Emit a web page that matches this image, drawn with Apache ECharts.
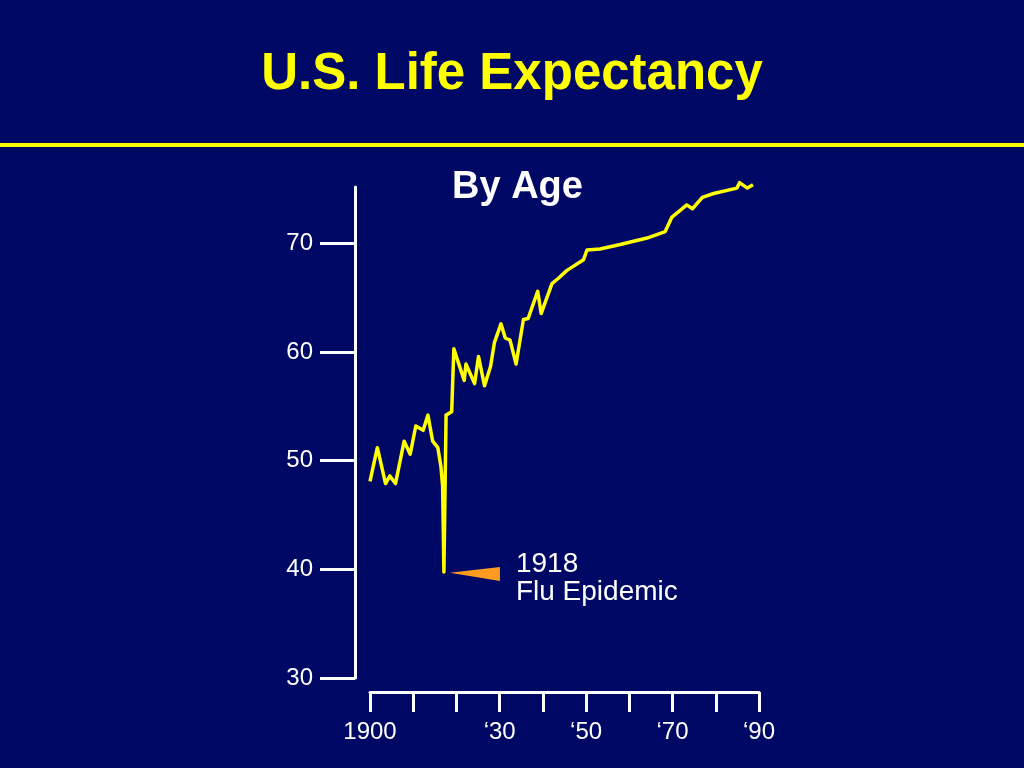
<!DOCTYPE html>
<html lang="en">
<head>
    <meta charset="UTF-8">
    <title>U.S. Life Expectancy</title>
    <style>
        html, body {
            margin: 0;
            padding: 0;
            background: #000866;
        }
        #main {
            width: 1024px;
            height: 768px;
        }
    </style>
</head>
<body>
<div id="main"></div>
<script src="https://cdn.jsdelivr.net/npm/echarts@6/dist/echarts.min.js"></script>
<script>
    // values (year, life expectancy at birth)
    var years = [1900, 1901.7, 1903.6, 1904.6, 1905.9, 1907.9, 1909.3, 1910.6, 1912.3, 1913.4,
        1914.5, 1915.7, 1916.4, 1916.8, 1917.1, 1917.6, 1918.9, 1919.4, 1921.8, 1922.2,
        1924.2, 1925.1, 1926.5, 1927.9, 1928.8, 1930.3, 1931.3, 1932.4, 1933.8, 1935.5,
        1936.6, 1938.8, 1939.6, 1942.1, 1943.6, 1945.5, 1949.4, 1950.2, 1953.2, 1957.9,
        1964.1, 1968.3, 1969.8, 1973.3, 1974.6, 1976.9, 1979.5, 1984.9, 1985.5, 1987.3, 1988.6];
    var lifeExp = [48.1, 51.2, 47.9, 48.6, 47.9, 51.8, 50.6, 53.2, 52.8, 54.2,
        51.8, 51.2, 49.5, 47.7, 39.75, 54.2, 54.5, 60.3, 57.4, 58.9,
        57.1, 59.6, 56.9, 58.7, 60.9, 62.6, 61.3, 61.1, 58.9, 63.0,
        63.1, 65.6, 63.55, 66.3, 66.8, 67.5, 68.5, 69.4, 69.5, 69.9,
        70.5, 71.1, 72.4, 73.55, 73.2, 74.25, 74.6, 75.1, 75.6, 75.1, 75.4];
    var yTicks = [30, 40, 50, 60, 70];
    var xLabels = [1900, 1930, 1950, 1970, 1990];
    var flu = {year: 1917.1, value: 39.75, text: '1918\nFlu Epidemic'};

    var data = years.map(function (y, i) {
        return [y, lifeExp[i]];
    });

    var font = 'Liberation Sans, Arial, sans-serif';
    var chart = echarts.init(document.getElementById('main'));

    chart.setOption({
        backgroundColor: '#000866',
        animation: false,
        title: [
            {
                text: 'U.S. Life Expectancy',
                left: 'center',
                top: 44,
                textStyle: {color: '#ffff00', fontSize: 51, fontWeight: 'bold', fontFamily: font}
            },
            {
                text: 'By Age',
                left: 447,
                top: 164,
                textStyle: {color: '#ffffff', fontSize: 38, fontWeight: 'bold', fontFamily: font}
            }
        ],
        graphic: [
            {
                type: 'rect',
                shape: {x: 0, y: 143, width: 1024, height: 4},
                style: {fill: '#ffff00'}
            }
        ],
        grid: {
            left: 370,
            right: 265,
            top: 187,
            bottom: 90
        },
        xAxis: {
            type: 'value',
            min: 1900,
            max: 1990,
            interval: 10,
            offset: 14,
            splitLine: {show: false},
            axisLine: {lineStyle: {color: '#ffffff', width: 3}},
            axisTick: {length: 20, lineStyle: {color: '#ffffff', width: 3}},
            axisLabel: {
                customValues: xLabels,
                margin: 28,
                color: '#ffffff',
                fontSize: 24,
                fontFamily: font,
                formatter: function (v) {
                    return v === 1900 ? '1900' : '\u2018' + String(v).slice(2);
                }
            }
        },
        yAxis: {
            type: 'value',
            min: 30,
            max: 75.2,
            offset: 15,
            splitLine: {show: false},
            axisLine: {show: true, lineStyle: {color: '#ffffff', width: 3}},
            axisTick: {show: true, customValues: yTicks, length: 35, lineStyle: {color: '#ffffff', width: 3}},
            axisLabel: {
                customValues: yTicks,
                margin: 42,
                padding: [4, 0, 0, 0],
                color: '#ffffff',
                fontSize: 24,
                fontFamily: font
            }
        },
        series: [
            {
                type: 'line',
                data: data,
                clip: false,
                showSymbol: false,
                lineStyle: {color: '#ffff00', width: 3.5, join: 'round'},
                markPoint: {
                    silent: true,
                    data: [{coord: [flu.year, flu.value]}],
                    symbol: 'path://M0,5.6L50,0L50,14Z',
                    symbolSize: [50, 14],
                    symbolOffset: [31, 2],
                    itemStyle: {color: '#ff9c1f'},
                    label: {
                        show: true,
                        position: 'right',
                        distance: 16,
                        offset: [0, 4],
                        formatter: flu.text,
                        color: '#ffffff',
                        fontSize: 28,
                        lineHeight: 28,
                        fontFamily: font
                    }
                }
            }
        ]
    });
</script>
</body>
</html>
